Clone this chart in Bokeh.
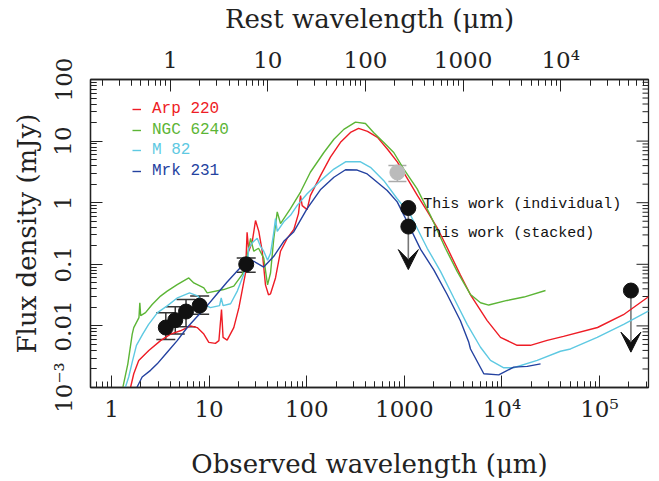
import math
from bokeh.plotting import figure
from bokeh.models import (ColumnDataSource, LogAxis, Range1d, LogScale, FixedTicker,
                          Whisker, TeeHead, Arrow, VeeHead, Label, Legend, LegendItem,
                          CustomJSTickFormatter)
from bokeh.embed import file_html
from bokeh.resources import INLINE

# ---------------- data ----------------
Z = 3.0  # redshift used for the rest-frame axis

arp_wl = [1.49, 1.57, 1.69, 1.90, 2.41, 3.18, 4.02, 5.09, 6.45, 7.55, 8.83, 9.93, 11.6, 12.6, 13.4,
          13.9, 15.3, 17.9, 20.2, 22.4, 23.6, 24.5, 25.5, 27.7, 29.9, 32.3, 35.0, 37.8, 40.6, 42.6,
          47.9, 53.9, 63.1, 73.8, 82.4, 86.4, 89.9, 101, 109, 138, 175, 222, 281, 340, 420,
          531, 673, 851, 1080, 1365, 1730, 2190, 2770, 3760, 4770, 7070, 9680, 14350, 19600, 29100,
          42800, 95500, 176000, 318000]
arp_fx = [0.00071, 0.00102, 0.00167, 0.00275, 0.00398, 0.00576, 0.00736, 0.00834, 0.0100, 0.0094,
          0.00736, 0.0054, 0.00521, 0.00576, 0.0185, 0.00651, 0.00589, 0.0094, 0.0198, 0.0468,
          0.0722, 0.33, 0.163, 0.236, 0.514, 0.342, 0.163, 0.0463, 0.032, 0.0332,
          0.060, 0.163, 0.264, 0.368, 0.665, 1.30, 0.895, 0.771, 1.30, 2.72,
          5.49, 9.57, 13.8, 16.1, 14.4, 11.5, 7.38, 4.56, 2.43, 1.30,
          0.717, 0.382, 0.182, 0.067, 0.032, 0.0122, 0.00651, 0.00484, 0.00484, 0.00582,
          0.00676, 0.00942, 0.0152, 0.0297]

ngc_wl = [1.18, 1.31, 1.47, 1.63, 1.69, 1.91, 1.95, 1.99, 2.23, 2.61, 3.18, 3.72, 4.71, 6.19, 6.97,
          8.83, 9.55, 14.1, 17.9, 21.8, 23.6, 26.6, 28.7, 32.1, 36.3, 39.7, 42.6, 46.0, 49.9, 53.9,
          68.2, 86.4, 109, 150, 190, 240, 316, 400, 487, 617, 780, 988, 1355, 1850, 2640,
          3480, 4770, 6040, 7340, 11300, 16800, 28000]
ngc_fx = [0.00071, 0.00102, 0.00242, 0.00736, 0.0094, 0.0136, 0.0238, 0.0147, 0.0164, 0.0223,
          0.0305, 0.0367, 0.0468, 0.060, 0.0499, 0.0414, 0.0344, 0.0389, 0.0441, 0.0678,
          0.098, 0.264, 0.163, 0.182, 0.126, 0.0463, 0.0722, 0.264, 0.709, 0.459,
          0.801, 1.49, 3.12, 6.53, 10.7, 15.5, 20.3, 19.3, 13.7, 9.46,
          6.53, 3.52, 1.68, 0.625, 0.182, 0.0769, 0.0323, 0.0238, 0.0218, 0.0259,
          0.0294, 0.0375]

m82_wl = [1.30, 1.39, 1.50, 1.63, 1.80, 2.08, 2.39, 2.96, 3.75, 4.74, 6.30, 7.61, 8.97, 10.3, 12.8,
          13.3, 13.9, 16.6, 19.5, 22.5, 24.7, 25.5, 27.9, 31.1, 33.6, 36.3, 39.7, 42.6, 46.0, 47.9,
          49.9, 58.2, 68.2, 80, 101, 138, 190, 250, 356, 450, 617, 846, 1160, 1718, 2350,
          3210, 4410, 6040, 7640, 10470, 13200, 23000, 39800, 50500, 94700, 177000, 320000]
m82_fx = [0.00071, 0.00102, 0.00148, 0.00258, 0.00484, 0.00727, 0.0105, 0.0164, 0.0213, 0.0286,
          0.0344, 0.0308, 0.0221, 0.0198, 0.0213, 0.0286, 0.0213, 0.0229, 0.0371, 0.067,
          0.105, 0.182, 0.227, 0.264, 0.196, 0.163, 0.117, 0.151, 0.33, 0.553,
          0.342, 0.49, 0.625, 0.905, 1.40, 2.26, 3.52, 4.61, 4.61, 3.75,
          2.28, 1.16, 0.625, 0.182, 0.0769, 0.0286, 0.0106, 0.0045, 0.00275, 0.00209,
          0.00209, 0.00275, 0.00388, 0.00422, 0.00651, 0.0106, 0.0175]

mrk_wl = [1.72, 1.83, 2.06, 2.51, 2.94, 3.72, 4.71, 5.97, 7.55, 9.57, 12.1, 15.3, 19.4, 23.6, 28.7,
          36.3, 46.0, 58.2, 73.8, 101, 138, 190, 250, 329, 417, 528, 668, 846, 1070, 1470,
          2005, 2750, 3760, 4580, 4770, 6530, 9290, 13200, 18200, 24900]
mrk_fx = [0.00071, 0.00102, 0.00148, 0.0019, 0.00242, 0.00374, 0.00576, 0.00942, 0.0142, 0.0213,
          0.0332, 0.0517, 0.0778, 0.108, 0.112, 0.0902, 0.135, 0.236, 0.338, 0.801,
          1.62, 2.59, 3.43, 3.39, 2.93, 2.15, 1.58, 1.03, 0.49, 0.175,
          0.081, 0.0323, 0.0121, 0.00541, 0.00422, 0.00167, 0.0016, 0.00214, 0.0022, 0.00242]

# Spitzer photometry (IRAC + MIPS 24um)
ir_wl = [3.6, 4.5, 5.8, 8.0, 24.0]
ir_fx = [0.0094, 0.0124, 0.0171, 0.0213, 0.100]
ir_lo = [0.0060, 0.0074, 0.0097, 0.0155, 0.074]
ir_hi = [0.0164, 0.0205, 0.0269, 0.0305, 0.126]

# literature submm point (grey)
lit_wl = [850]
lit_fx = [3.1]
lit_lo = [2.2]
lit_hi = [4.0]

# this work: individual and stacked 1.1 mm, radio upper limit
mm_wl = [1100, 1100]
mm_fx = [0.82, 0.41]
radio_wl = [2.1e5]
radio_fx = [0.0375]
lim_wl = [1100, 2.1e5]
lim_fx = [0.82, 0.0375]

names = ["Arp 220", "NGC 6240", "M 82", "Mrk 231"]
colors = ["#ee1c25", "#5cb536", "#5ec9e2", "#2442a0"]

x_ticks = [1, 10, 100, 1000, 1e4, 1e5]
rest_ticks = [0.1, 1, 10, 100, 1000, 1e4, 1e5]
y_ticks = [1e-3, 0.01, 0.1, 1, 10, 100]

# ---------------- figure ----------------
SERIF = "DejaVu Serif"
MONO = "Liberation Mono"
INK = "#222222"

x_lo, x_hi = 0.609, 3.18e5

p = figure(width=659, height=481, x_axis_type="log", y_axis_type="log",
           x_range=Range1d(x_lo, x_hi), y_range=Range1d(1e-3, 100),
           output_backend="svg", toolbar_location=None,
           min_border_left=90, min_border_right=11, min_border_top=79, min_border_bottom=91)
p.xgrid.visible = False
p.ygrid.visible = False
p.outline_line_color = INK
p.outline_line_width = 1.3
p.background_fill_color = "white"
p.border_fill_color = "white"

def minor_of(majors):
    out = []
    for m in majors:
        for k in range(2, 10):
            out.append(m * k)
    return out

fmt = CustomJSTickFormatter(code="""
const e = Math.round(Math.log10(tick));
const sup = {"-":"\u207b","0":"\u2070","1":"\u00b9","2":"\u00b2","3":"\u00b3","4":"\u2074","5":"\u2075","6":"\u2076","7":"\u2077","8":"\u2078","9":"\u2079"};
if (e >= 4 || e <= -3) {
  return "10" + String(e).split("").map(c => sup[c]).join("");
}
return String(parseFloat(tick.toPrecision(6)));
""")

def style_axis(ax, ticks):
    ax.ticker = FixedTicker(ticks=ticks, minor_ticks=minor_of([t / 10 for t in ticks] + ticks))
    ax.formatter = fmt
    ax.major_tick_in = 12
    ax.major_tick_out = 0
    ax.minor_tick_in = 6
    ax.minor_tick_out = 0
    ax.major_tick_line_color = INK
    ax.minor_tick_line_color = INK
    ax.axis_line_color = INK
    ax.axis_line_width = 1.3
    ax.major_label_text_font = SERIF
    ax.major_label_text_font_size = "23px"
    ax.major_label_text_color = INK
    ax.axis_label_text_font = SERIF
    ax.axis_label_text_font_size = "26px"
    ax.axis_label_text_font_style = "normal"
    ax.axis_label_text_color = INK

bottom = p.below[0]
style_axis(bottom, x_ticks)
bottom.axis_label = "Observed wavelength (μm)"
bottom.major_label_standoff = 8
bottom.axis_label_standoff = 24

left = p.left[0]
style_axis(left, y_ticks)
left.axis_label = "Flux density (mJy)"
left.major_label_orientation = "parallel"
left.major_label_standoff = 14
left.axis_label_standoff = 6

p.extra_x_ranges = {"rest": Range1d(x_lo / (1 + Z), x_hi / (1 + Z))}
p.extra_x_scales = {"rest": LogScale()}
top = LogAxis(x_range_name="rest")
style_axis(top, rest_ticks)
top.axis_label = "Rest wavelength (μm)"
top.major_label_standoff = 7
top.axis_label_standoff = 10
p.add_layout(top, "above")

# right-hand frame ticks (no labels): short rays pointing into the frame
y_minor = [t for t in minor_of(y_ticks) if t < 100]
p.ray(x=[x_hi] * len(y_ticks), y=y_ticks, length=12, length_units="screen",
      angle=math.pi, line_color=INK, line_width=1)
p.ray(x=[x_hi] * len(y_minor), y=y_minor, length=6, length_units="screen",
      angle=math.pi, line_color=INK, line_width=1)

# ---------------- template SEDs ----------------
seds = [(arp_wl, arp_fx), (ngc_wl, ngc_fx), (m82_wl, m82_fx), (mrk_wl, mrk_fx)]
renderers = []
for (wl, fx), c in zip(seds, colors):
    r = p.line(wl, fx, line_color=c, line_width=1.4)
    renderers.append(r)

# ---------------- upper-limit arrows ----------------
lim_src = ColumnDataSource(dict(x=lim_wl, y=lim_fx, tip=[f / 10 for f in lim_fx]))
arrows = Arrow(end=VeeHead(size=20, fill_color="#111111", line_color="#111111"),
               source=lim_src, x_start="x", y_start="y", x_end="x", y_end="tip",
               line_color="#777777", line_width=1.6, level="underlay")
p.add_layout(arrows)

# ---------------- error bars and points ----------------
ir_src = ColumnDataSource(dict(x=ir_wl, y=ir_fx, lo=ir_lo, hi=ir_hi))
p.add_layout(Whisker(base="x", lower="lo", upper="hi", source=ir_src, dimension="height",
                     line_color="#333333", line_width=1.5,
                     upper_head=TeeHead(size=19, line_color="#333333", line_width=1.5),
                     lower_head=TeeHead(size=19, line_color="#333333", line_width=1.5),
                     level="underlay"))
lit_src = ColumnDataSource(dict(x=lit_wl, y=lit_fx, lo=lit_lo, hi=lit_hi))
p.add_layout(Whisker(base="x", lower="lo", upper="hi", source=lit_src, dimension="height",
                     line_color="#aaaaaa", line_width=1.5,
                     upper_head=TeeHead(size=18, line_color="#aaaaaa", line_width=1.5),
                     lower_head=TeeHead(size=18, line_color="#aaaaaa", line_width=1.5),
                     level="underlay"))

p.scatter("x", "y", source=ir_src, size=15, color="#111111")
p.scatter("x", "y", source=lit_src, size=15, color="#bbbbbb")
p.scatter(mm_wl, mm_fx, size=15, color="#111111")
p.scatter(radio_wl, radio_fx, size=15, color="#111111")

p.add_layout(Label(x=mm_wl[0], y=mm_fx[0], text="This work (individual)", x_offset=15, y_offset=4,
                   text_baseline="middle", text_font=MONO, text_font_size="15px",
                   text_color="#111111"))
p.add_layout(Label(x=mm_wl[1], y=mm_fx[1], text="This work (stacked)", x_offset=15, y_offset=-7,
                   text_baseline="middle", text_font=MONO, text_font_size="15px",
                   text_color="#111111"))

# ---------------- legend (one per template so text colours match) ----------------
for i, (r, name, c) in enumerate(zip(renderers, names, colors)):
    lg = Legend(items=[LegendItem(label=name, renderers=[r])],
                location=(42, 268 - 20.7 * i),
                glyph_width=9, glyph_height=20, label_height=20, label_standoff=11,
                padding=0, margin=0, spacing=0,
                label_text_font=MONO, label_text_font_size="16px", label_text_color=c,
                border_line_color=None, background_fill_alpha=0)
    p.add_layout(lg)

open("out.html", "w").write(file_html(p, INLINE))
